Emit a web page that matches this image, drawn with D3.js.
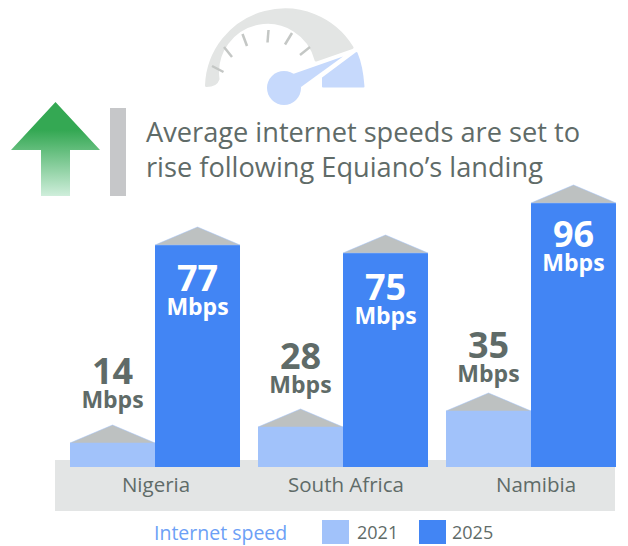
<!DOCTYPE html>
<html><head><meta charset="utf-8">
<script src="https://cdn.jsdelivr.net/npm/d3@7/dist/d3.min.js"></script>
<style>html,body{margin:0;padding:0;background:#fff}svg{display:block}text{font-family:"Open Sans",sans-serif}</style>
</head><body><svg id="c" width="628" height="546"></svg>
<script>
const countries = ["Nigeria","South Africa","Namibia"];
const years = ["2021","2025"];
const speeds2021 = [14,28,35];
const speeds2025 = [77,75,96];
const titleLines = ["Average internet speeds are set to","rise following Equiano’s landing"];
const legendTitle = "Internet speed";
const unit = "Mbps";
// The graphic is not drawn to a true linear scale, so the value scale is piecewise.
const scaleKnots = [0,14,28,35,75,77,96];
const scaleKnotHeights = [0,24,40,56,214,222,264];

const svg = d3.select("#c");
const grey="#5f6b68", light="#a1c2fa", blue="#4285f4", roof="#bdc1c1", pale="#c6d9fc";
const baseY = 467;

const defs = svg.append("defs");
const g = defs.append("linearGradient").attr("id","arrowGrad").attr("x1",0).attr("x2",0).attr("y1",0).attr("y2",1);
g.append("stop").attr("offset","0.3").attr("stop-color","#34a853");
g.append("stop").attr("offset","1").attr("stop-color","#cfeedb");

// gauge
const gauge = svg.append("g");
gauge.append("path").attr("fill","#e3e5e4").attr("stroke","#e3e5e4").attr("stroke-width",3).attr("stroke-linejoin","round")
  .attr("d","M206.5,85.5 A78.5,78.5 0 0 1 352,47.5 L316,60 A50,50 0 0 0 218,79 Q216,85.5 206.5,85.5Z");
[[212,66,223.5,72],[224,47,232,57],[242.5,34,247,46],[268.5,30,267.5,42.5],[292,33,285,44.5],[310,47,300,55]].forEach(t=>{
  gauge.append("line").attr("x1",t[0]).attr("y1",t[1]).attr("x2",t[2]).attr("y2",t[3])
    .attr("stroke","#c4c7c5").attr("stroke-width",2.5);
});
gauge.append("circle").attr("cx",284).attr("cy",88).attr("r",17).attr("fill",pale);
gauge.append("path").attr("fill",pale).attr("d","M293,74 L343,56.5 L301,87 Z");
gauge.append("path").attr("fill",pale).attr("stroke",pale).attr("stroke-width",2).attr("stroke-linejoin","round")
  .attr("d","M323,78 L356.5,53 Q362,66 363.5,86.5 L323,86.5 Z");

// arrow + title
svg.append("path").attr("fill","url(#arrowGrad)").attr("d","M55.5,102 L100,150 L70,150 L70,196 L41,196 L41,150 L11,150 Z");
svg.append("rect").attr("x",110).attr("y",108).attr("width",16).attr("height",88).attr("fill","#c6c7c9");
svg.append("g").selectAll("text").data(titleLines).join("text")
  .attr("x",146).attr("y",(d,i)=>142+i*35).attr("fill",grey).attr("font-size",27.2).text(d=>d);

// ground
svg.append("rect").attr("x",55).attr("y",460).attr("width",560).attr("height",51).attr("fill","#e3e5e5");

// scales
const x0 = d3.scaleBand().domain(countries).range([70,616]).paddingInner(0.0957);
const x1 = d3.scaleBand().domain(years).range([0,x0.bandwidth()]);
const h = d3.scaleLinear().domain(scaleKnots).range(scaleKnotHeights);
const color = d3.scaleOrdinal().domain(years).range([light,blue]);
const xAxisPos = d3.scalePoint().domain(countries).range([155.5,535.5]);

const rows = countries.flatMap((c,i)=>[
  {c,year:years[0],v:speeds2021[i]},
  {c,year:years[1],v:speeds2025[i]}]);

const bars = svg.append("g").selectAll("g").data(rows).join("g")
  .attr("transform",d=>`translate(${x0(d.c)+x1(d.year)},0)`);
bars.append("rect").attr("x",0).attr("width",x1.bandwidth())
  .attr("y",d=>baseY-h(d.v)).attr("height",d=>h(d.v)).attr("fill",d=>color(d.year));
bars.append("path").attr("fill",roof).attr("stroke",light).attr("stroke-width",0.5)
  .attr("d",d=>{const t=baseY-h(d.v),w=x1.bandwidth();return `M0,${t} L${w/2},${t-18} L${w},${t} Z`;});
const lift = {Nigeria:59, "South Africa":58, Namibia:53};
const drop = {Nigeria:46, "South Africa":47, Namibia:44};
const labels = bars.append("text").attr("text-anchor","middle")
  .attr("fill",d=>d.year===years[0]?grey:"#fff").attr("font-weight",700)
  .attr("y",d=>d.year===years[0]?baseY-h(d.v)-lift[d.c]:baseY-h(d.v)+drop[d.c]);
labels.append("tspan").attr("x",x1.bandwidth()/2).attr("font-size",36).text(d=>d.v);
labels.append("tspan").attr("x",x1.bandwidth()/2).attr("dy",24).attr("font-size",23).text(unit);

// category axis
const ax = svg.append("g").attr("transform","translate(0,477)").call(d3.axisBottom(xAxisPos).tickSize(0).tickPadding(0));
ax.select(".domain").remove();
ax.selectAll("text").attr("font-size",20.5).attr("fill",grey).attr("font-family",'"Open Sans",sans-serif').attr("dy","0.75em");

// legend
svg.append("text").attr("x",154).attr("y",540).attr("fill","#6ca0f6").attr("font-size",19.5).text(legendTitle);
const lx = d3.scaleOrdinal().domain(years).range([322,419]);
const lg = svg.append("g").selectAll("g").data(years).join("g").attr("transform",d=>`translate(${lx(d)},520)`);
lg.append("rect").attr("width",27).attr("height",24).attr("fill",d=>color(d));
lg.append("text").attr("x",d=>d===years[0]?35:33).attr("y",19).attr("font-size",18).attr("fill",grey).text(d=>d);
</script></body></html>
